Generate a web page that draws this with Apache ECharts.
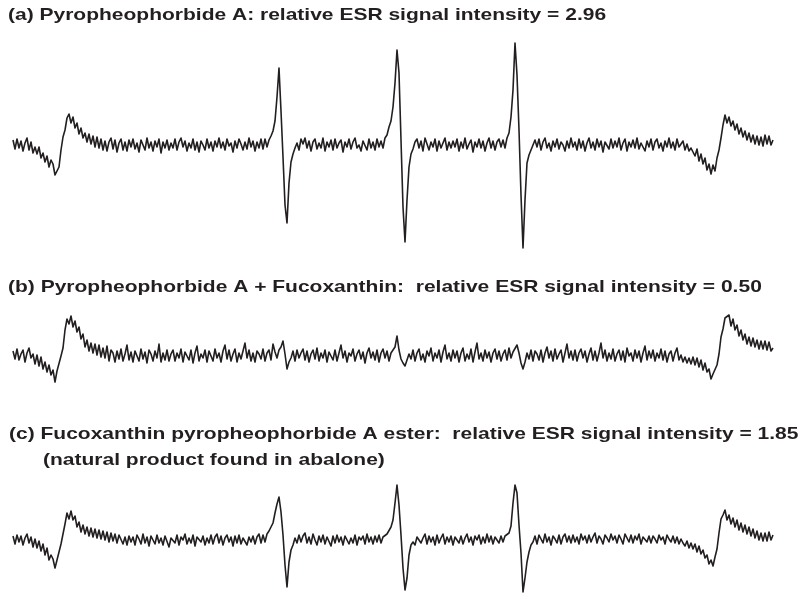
<!DOCTYPE html>
<html>
<head>
<meta charset="utf-8">
<script src="https://cdn.jsdelivr.net/npm/echarts@6/dist/echarts.min.js"></script>
<style>html,body{margin:0;padding:0;background:#fff}#c{width:798px;height:593px}</style>
</head>
<body>
<div id="c"></div>
<script>
// Panel titles
const titles = [
  "(a) Pyropheophorbide A: relative ESR signal intensity = 2.96",
  "(b) Pyropheophorbide A + Fucoxanthin:  relative ESR signal intensity = 0.50",
  "(c) Fucoxanthin pyropheophorbide A ester:  relative ESR signal intensity = 1.85",
  "(natural product found in abalone)"
];

// ESR first-derivative spectra, sampled evenly across the field sweep (381 samples)
const traceA = [
  5,-4,6,-3,4,-6,2,7,-5,3,-8,-2,-9,-2,-13,-8,-17,-11,-22,-15,
  -19,-30,-28,-22,-5,8,15,27,31,22,28,17,22,11,17,7,12,3,11,1,
  9,-2,8,-3,6,-5,4,-6,3,7,-4,5,-7,2,6,-5,3,-6,5,-2,
  6,-4,2,-7,5,0,-5,7,-3,3,-6,4,-2,6,-8,3,-3,5,-5,2,
  -3,6,-5,3,7,-2,4,-6,2,-3,6,-5,3,-7,4,0,-5,6,-3,3,
  -6,4,-2,7,-3,3,-5,6,-1,2,-7,4,-3,6,1,-5,3,-4,7,-2,
  4,-6,3,-3,6,-4,6,-2,5,9,14,24,48,77,34,-12,-60,-78,-38,-17,
  -9,-3,2,-5,6,1,7,-3,4,-6,3,6,-4,2,-3,7,-6,3,-2,5,
  -5,6,-3,2,5,-7,3,-2,6,-4,3,7,-3,0,-6,4,2,-5,6,-3,
  3,-5,6,-2,4,-3,7,10,18,24,38,62,95,72,5,-62,-97,-55,-22,-9,
  -4,3,6,-3,4,-6,7,1,-5,3,-2,6,-6,4,-3,2,7,-5,3,-3,
  4,-2,6,-6,3,-3,7,-4,1,5,-7,3,-2,6,-3,4,-6,2,7,-3,
  4,-5,3,6,-2,5,-3,7,12,28,55,102,70,15,-50,-103,-55,-18,-10,-5,
  -3,5,-2,6,-5,3,7,-3,2,-6,4,-2,6,-4,3,0,-6,4,-3,7,
  -2,3,-5,6,-3,4,-6,2,7,-3,3,-5,6,-2,4,-7,3,1,-4,6,
  -3,4,-2,7,-5,2,6,-6,3,-2,5,-3,7,-4,2,3,-6,4,-2,6,
  -5,3,6,-3,2,-6,4,-2,7,-3,3,-5,6,-2,0,4,-5,1,-6,-3,
  -1,-11,-4,-16,-9,-19,-13,-25,-19,-29,-20,-26,-13,-5,7,20,30,22,28,19,
  24,15,21,11,17,8,14,5,12,3,10,1,9,0,8,-1,10,1,9,0,
  5
];
const traceB = [
  5,-3,7,-4,2,6,-6,3,8,-2,2,-8,1,-10,-1,-13,-6,-16,-9,-19,
  -14,-26,-15,-13,0,8,26,37,32,40,29,35,24,29,17,22,9,16,5,13,
  3,12,1,11,-1,8,-2,10,-5,6,3,-6,5,-3,7,-5,2,11,-4,4,
  -6,5,0,-5,7,-3,4,-7,6,2,-5,5,-2,12,-6,3,-4,6,-5,2,
  6,-5,3,-2,7,-6,4,0,-4,6,-7,3,10,-5,2,-2,6,-6,5,3,
  -5,7,-2,3,-6,5,11,-3,6,-5,2,7,-6,3,-3,5,13,-2,6,-5,
  3,-6,5,2,-3,7,-5,3,6,-4,12,4,-2,6,9,15,2,-13,-6,-2,
  5,-5,6,-2,3,7,-4,5,-6,2,6,-3,8,-5,3,-2,6,-6,4,2,
  -4,6,-5,3,11,-2,5,-6,3,0,7,-5,2,6,-3,4,-7,3,8,-2,
  4,-4,6,-6,3,7,-2,5,-5,3,6,9,20,6,-3,-7,-10,-4,2,-3,
  6,-5,3,7,-4,2,-6,5,0,8,-5,3,-2,6,-6,4,11,-3,3,-5,
  6,-2,5,-6,3,8,-5,2,-3,7,-6,4,13,-3,3,-5,6,-2,4,-6,
  3,7,-3,5,-5,2,6,-4,8,-2,4,5,11,3,-7,-13,-6,3,-3,6,
  -5,5,2,-4,6,-6,3,9,-2,5,-5,7,-3,2,6,-6,3,12,-2,5,
  -4,6,-5,3,7,-2,5,-6,2,8,-4,5,-5,3,13,-2,6,-5,3,-3,
  7,-5,2,6,-4,5,-6,8,0,3,-5,6,-2,5,-6,3,10,-4,5,-2,
  6,-5,3,-2,7,-4,5,-6,2,5,-5,3,8,-4,1,-6,-1,-7,-2,-8,
  -1,-9,-2,-11,-4,-14,-7,-16,-13,-23,-18,-20,-9,2,19,27,38,36,41,30,
  37,26,31,20,26,16,22,12,19,10,18,9,16,7,15,7,15,6,14,5,
  8
];
const traceC = [
  4,-4,5,-2,4,-5,2,6,-3,3,-7,1,-8,-1,-11,-4,-15,-8,-20,-15,
  -19,-28,-20,-20,-4,6,16,27,21,29,20,24,13,18,8,15,6,13,4,12,
  3,11,2,10,1,9,0,8,-2,7,-1,6,-3,5,7,-4,3,-5,4,-2,
  3,-5,5,1,-4,6,-3,3,-6,4,0,-4,5,-3,2,-5,4,3,-7,2,
  4,-3,5,-5,3,0,6,-4,2,-3,5,-6,3,5,-2,4,-5,2,-3,5,
  -4,3,6,-3,4,-5,2,5,-2,3,-6,4,-3,5,-4,2,4,-5,3,-2,
  4,-4,3,6,-3,5,-2,6,9,13,17,27,36,43,28,5,-25,-47,-22,-10,
  -5,2,-3,5,-2,4,7,-3,3,-4,6,0,-5,4,-2,5,-4,3,1,-6,
  4,-3,5,-2,3,-5,4,6,-4,2,-3,5,-5,3,0,4,-4,6,-2,3,
  -4,4,-2,5,-3,3,5,6,8,13,20,37,55,35,5,-28,-50,-38,-15,-5,
  -2,-5,3,5,-3,2,6,-4,4,-2,3,-5,5,-3,2,6,-4,3,-2,4,
  -5,3,5,-3,4,-4,2,6,-2,3,-5,4,0,5,-4,3,-3,6,-2,4,
  -4,3,5,-3,4,-2,4,5,7,14,37,55,47,15,-13,-52,-38,-22,-12,-5,
  -2,4,-4,5,1,-3,6,-2,3,-5,4,1,-3,5,-4,3,6,-2,4,-3,
  5,-2,3,-4,6,0,4,-3,5,-2,3,7,-3,4,1,-4,5,2,-2,6,
  0,4,-3,5,1,-4,6,2,-2,5,-3,4,0,6,-4,3,5,-2,4,-3,
  4,1,-3,5,0,3,-4,5,1,-2,4,-3,3,-4,1,-3,-6,-1,-8,-3,
  -9,-4,-12,-6,-14,-10,-18,-15,-24,-20,-26,-17,-9,7,21,25,30,20,25,16,
  22,13,20,10,17,8,15,6,13,4,11,2,9,0,7,-1,7,-1,8,0,
  5
];

const chart = echarts.init(document.getElementById('c'), null, {renderer: 'canvas'});
const ink = '#231f20';
const grids = [
  {left: 13, right: 25, top: 35, height: 220},
  {left: 13, right: 25, top: 306, height: 100},
  {left: 13, right: 25, top: 480, height: 113}
];
const yRanges = [[-110, 110], [-50, 50], [-53, 60]];
const traces = [traceA, traceB, traceC];
const titleFont = 'bold 21px "Liberation Sans", Arial, Helvetica, sans-serif';
const titlePos = [[8, 16], [8, 288], [9, 435], [43, 461]];

chart.setOption({
  animation: false,
  backgroundColor: '#ffffff',
  grid: grids,
  xAxis: grids.map((g, k) => ({type: 'value', gridIndex: k, min: 0, max: traceA.length - 1, show: false})),
  yAxis: grids.map((g, k) => ({type: 'value', gridIndex: k, min: yRanges[k][0], max: yRanges[k][1], show: false})),
  series: traces.map((t, k) => ({
    type: 'line', xAxisIndex: k, yAxisIndex: k, showSymbol: false, clip: false,
    data: t.map((v, i) => [i, v]),
    lineStyle: {color: ink, width: 1.6, join: 'round'}
  })),
  graphic: titles.map((txt, k) => ({
    type: 'text', x: titlePos[k][0], y: titlePos[k][1], scaleY: 0.75,
    style: {text: txt, font: titleFont, fill: ink, align: 'left', verticalAlign: 'middle'}
  }))
});
</script>
</body>
</html>
